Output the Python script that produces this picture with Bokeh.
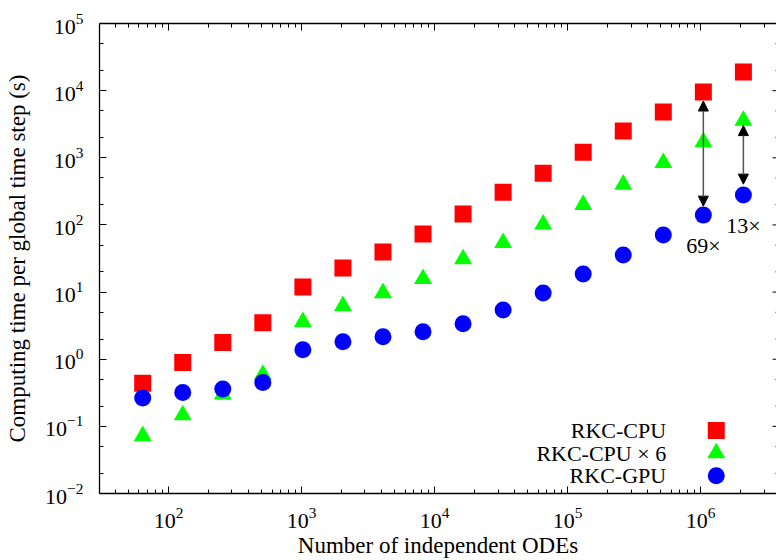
import math
from bokeh.plotting import figure
from bokeh.models import (LogAxis, FixedTicker, LogTickFormatter, CustomJSTickFormatter,
                          Arrow, NormalHead, Range1d)
from bokeh.core.properties import value
from bokeh.embed import file_html
from bokeh.resources import INLINE

# ---------------- data ----------------
n_odes = [64, 128, 256, 512, 1024, 2048, 4096, 8192, 16384, 32768,
          65536, 131072, 262144, 524288, 1048576, 2097152]
rkc_cpu = [0.44, 0.89, 1.78, 3.5, 11.9, 22.9, 39.5, 73, 145, 308,
           590, 1210, 2510, 4810, 9530, 18900]
rkc_cpu6 = [0.072, 0.147, 0.30, 0.59, 3.6, 6.2, 9.7, 15.7, 31, 54,
            102, 200, 401, 840, 1710, 3580]
rkc_gpu = [0.265, 0.32, 0.36, 0.45, 1.38, 1.82, 2.16, 2.56, 3.37, 5.4,
           9.7, 18.6, 35.7, 70.8, 140, 278]

series_names = ["RKC-CPU", "RKC-CPU \u00d7 6", "RKC-GPU"]
speedup_labels = ["69\u00d7", "13\u00d7"]

x_major_ticks = [1e2, 1e3, 1e4, 1e5, 1e6]
y_major_ticks = [1e-2, 1e-1, 1e0, 1e1, 1e2, 1e3, 1e4, 1e5]

FONT = "Liberation Serif"
X0, X1 = 30.3, 3.72e6
Y0, Y1 = 1e-2, 1e5

x_minor = [m * 10 ** k for k in range(1, 7) for m in range(2, 10) if X0 <= m * 10 ** k <= X1]
y_minor = [m * 10 ** k for k in range(-2, 5) for m in (2, 5)]

FRAME_W, FRAME_H = 677, 471

p = figure(width=776, height=560, x_axis_type="log", y_axis_type="log",
           x_range=Range1d(X0, X1), y_range=Range1d(Y0, Y1),
           output_backend="svg", toolbar_location=None,
           min_border_left=99, min_border_right=0, min_border_top=23, min_border_bottom=66)
p.grid.visible = False
p.outline_line_color = None
p.background_fill_color = "white"
p.border_fill_color = "white"

def style_axis(ax, show_labels=True):
    ax.major_tick_in = 7
    ax.major_tick_out = 0
    ax.minor_tick_in = 4
    ax.minor_tick_out = 0
    ax.axis_line_color = "black"
    ax.axis_line_width = 1.3
    ax.major_tick_line_color = "black"
    ax.minor_tick_line_color = "black"
    ax.major_label_text_font = FONT
    ax.major_label_text_color = "black"
    ax.axis_label_text_font = FONT
    ax.axis_label_text_font_style = "normal"
    ax.axis_label_text_font_size = "23px"
    ax.axis_label_text_color = "black"
    if show_labels:
        ax.major_label_text_font_size = "22px"
    else:
        ax.formatter = CustomJSTickFormatter(code="return ''")
        ax.major_label_text_font_size = "1px"
        ax.major_label_standoff = 0
        ax.axis_label_standoff = 0

p.xaxis.ticker = FixedTicker(ticks=x_major_ticks, minor_ticks=x_minor)
p.yaxis.ticker = FixedTicker(ticks=y_major_ticks, minor_ticks=y_minor)
p.xaxis.formatter = LogTickFormatter()
p.yaxis.formatter = LogTickFormatter()
style_axis(p.xaxis[0])
style_axis(p.yaxis[0])
p.xaxis.axis_label = "Number of independent ODEs"
p.yaxis.axis_label = "Computing time per global time step (s)"
p.xaxis.major_label_standoff = 14
p.yaxis.major_label_standoff = 16
p.xaxis.axis_label_standoff = 2
p.yaxis.axis_label_standoff = 12

top = LogAxis(ticker=FixedTicker(ticks=x_major_ticks, minor_ticks=x_minor))
style_axis(top, False)
p.add_layout(top, "above")

# right-hand (mirrored) ticks; the right frame edge lies just beyond the window
px_per_decade_x = FRAME_W / (math.log10(X1) - math.log10(X0))
def xshift(px):
    return 10 ** (px / px_per_decade_x)
edge = X1 * xshift(3)
p.segment(x0=[edge] * len(y_major_ticks), y0=y_major_ticks,
          x1=[edge / xshift(7)] * len(y_major_ticks), y1=y_major_ticks,
          line_color="black", line_width=1)
p.segment(x0=[edge] * len(y_minor), y0=y_minor,
          x1=[edge / xshift(4)] * len(y_minor), y1=y_minor,
          line_color="black", line_width=1)

# ---------------- data marks ----------------
SZ = 17
p.scatter(n_odes, rkc_cpu, marker="square", size=SZ, fill_color="#ff0000", line_color=None)
p.scatter(n_odes, rkc_cpu6, marker="triangle", size=SZ + 1, fill_color="#00ff00", line_color=None)
p.scatter(n_odes, rkc_gpu, marker="circle", size=SZ, fill_color="#0000ff", line_color=None)

# ---------------- speed-up arrows ----------------
px_per_decade = FRAME_H / 7.0
def gap(px):
    return 10 ** (px / px_per_decade)

arrow_pairs = [
    (n_odes[-2], rkc_cpu[-2] / gap(9), rkc_gpu[-2] * gap(9)),
    (n_odes[-1], rkc_cpu6[-1] / gap(5), rkc_gpu[-1] * gap(11)),
]
for xa, ys, ye in arrow_pairs:
    p.add_layout(Arrow(x_start=xa, y_start=ys, x_end=xa, y_end=ye,
                       line_color="#555555", line_width=1.5,
                       start=NormalHead(size=10, fill_color="black", line_color="black", line_width=1),
                       end=NormalHead(size=10, fill_color="black", line_color="black", line_width=1)))

p.text(x=n_odes[-2:], y=rkc_gpu[-2:], text=speedup_labels, y_offset=30,
       text_align="center", text_baseline="middle",
       text_font=value(FONT), text_font_size="22px", text_color="black")

# ---------------- legend (text left, key right) ----------------
lx0, lx1 = math.log10(X0), math.log10(X1)
ly0, ly1 = math.log10(Y0), math.log10(Y1)
def frac(fx, fy_from_top):
    return (10 ** (lx0 + fx * (lx1 - lx0)), 10 ** (ly1 - fy_from_top * (ly1 - ly0)))

rows = [0.866, 0.914, 0.962]
key_x = [frac(0.911, r)[0] for r in rows]
key_y = [frac(0.911, r)[1] for r in rows]
txt_x = [frac(0.837, r)[0] for r in rows]
p.text(x=txt_x, y=key_y, text=series_names, text_align="right", text_baseline="middle",
       text_font=value(FONT), text_font_size="22px", text_color="black")
p.scatter(key_x[0:1], key_y[0:1], marker="square", size=SZ, fill_color="#ff0000", line_color=None)
p.scatter(key_x[1:2], key_y[1:2], marker="triangle", size=SZ + 1, fill_color="#00ff00", line_color=None)
p.scatter(key_x[2:3], key_y[2:3], marker="circle", size=SZ, fill_color="#0000ff", line_color=None)

open("out.html", "w").write(file_html(p, INLINE))
